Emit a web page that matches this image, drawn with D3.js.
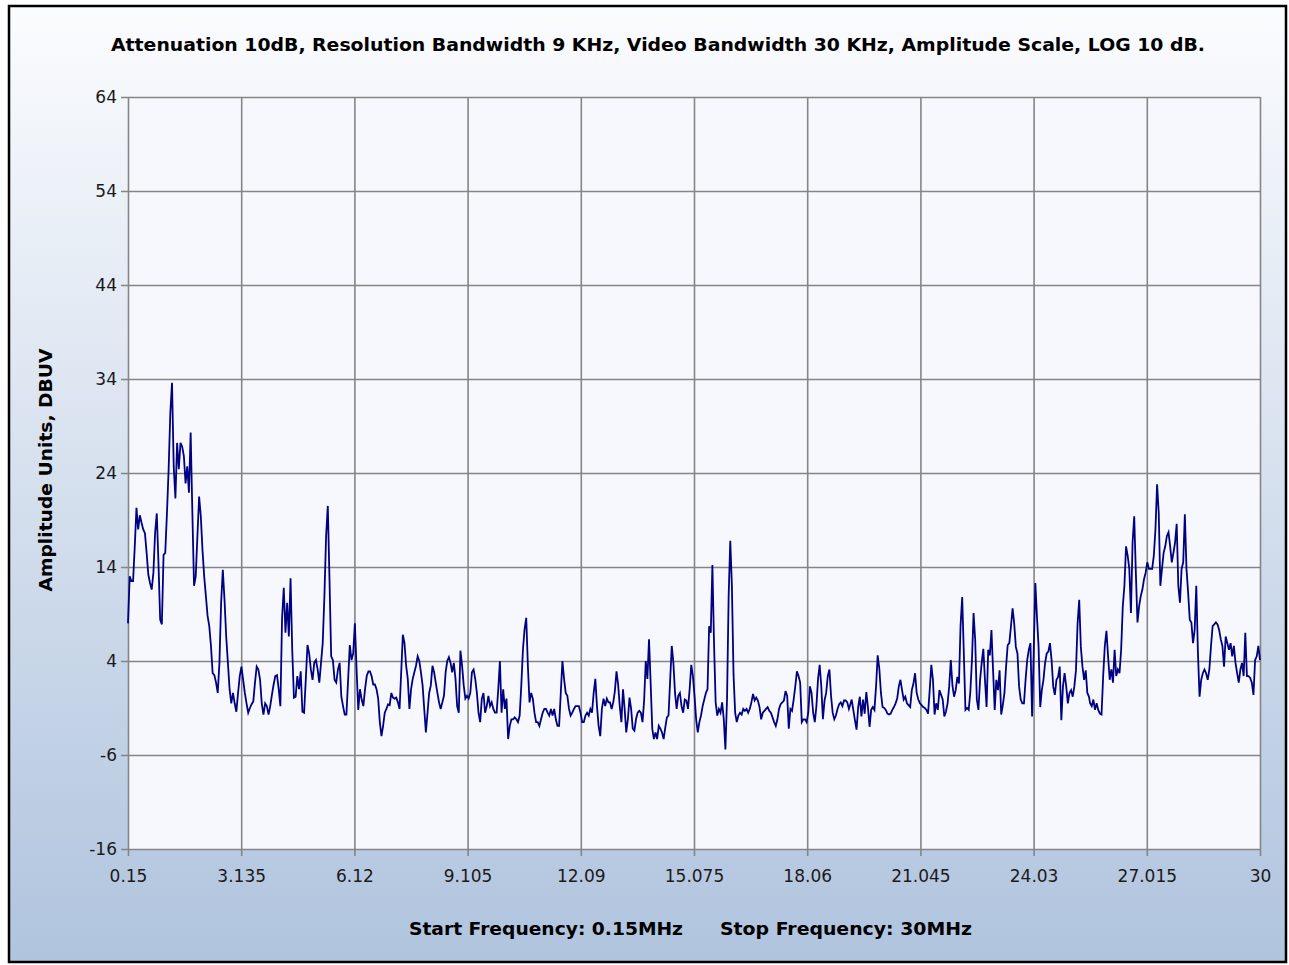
<!DOCTYPE html>
<html>
<head>
<meta charset="utf-8">
<script src="https://cdn.jsdelivr.net/npm/d3@7/dist/d3.min.js"></script>
<style>
  html, body { margin: 0; padding: 0; background: #ffffff; }
  svg { display: block; }
</style>
</head>
<body>
<script>
// ---------- DATA ----------
const title = "Attenuation 10dB, Resolution Bandwidth 9 KHz, Video Bandwidth 30 KHz, Amplitude Scale, LOG 10 dB.";
const yAxisTitle = "Amplitude Units, DBUV";
const startLabel = "Start Frequency: 0.15MHz";
const stopLabel = "Stop Frequency: 30MHz";

const xTickValues = [0.15, 3.135, 6.12, 9.105, 12.09, 15.075, 18.06, 21.045, 24.03, 27.015, 30];
const xTickLabels = ["0.15", "3.135", "6.12", "9.105", "12.09", "15.075", "18.06", "21.045", "24.03", "27.015", "30"];
const yTickValues = [-16, -6, 4, 14, 24, 34, 44, 54, 64];
const yTickLabels = ["-16", "-6", "4", "14", "24", "34", "44", "54", "64"];

// sweep segments (MHz) and the amplitude readings (dBuV) in each
const segStartMHz = [0.15, 6.53, 12.86, 19.19, 25.52];
const segEndMHz   = [6.49, 12.82, 19.16, 25.49, 30];

const amp1 = [8, 13, 12.5, 12.5, 16.2, 20.3, 18, 19.5, 18.7, 18,
  17.6, 15.5, 13.2, 12.3, 11.6, 13.4, 17.6, 19.7, 14.4, 8.4,
  7.9, 15.3, 15.5, 19.7, 24.4, 30.4, 33.6, 24.7, 21.3, 27.2,
  24.4, 27.2, 26.8, 25.8, 22.9, 24.7, 21.9, 28.3, 19.9, 12,
  13, 17.3, 21.5, 19.4, 15.8, 13, 10.9, 8.8, 7.7, 5.6,
  2.7, 2.5, 1.7, 0.6, 3.8, 10.2, 13.7, 10.5, 6.6, 3.8,
  1, -0.5, 0.6, -0.5, -1.4, 0.6, 2.4, 3.4, 2, 0.6,
  -0.5, -1.5, -1, -0.6, -0.3, 1.7, 3.4, 3.1, 2, -0.5,
  -1.7, -0.5, -0.8, -1.7, -0.8, 0.4, 1.5, 2.4, 2.5, 1,
  -0.8, 8.6, 11.8, 7, 10.2, 6.6, 12.8, 5.2, 0.1, 0.2,
  2.4, 1, 2.9, -1.4, -1.5, 2, 5.7, 4.8, 3.1, 2,
  3.8, 4.1, 3.1, 1.7, 3.8, 5.9, 10.9, 17.3, 20.5, 12.7,
  4.5, 4.1, 2, 1.7, 3.1, 3.8, 0.2, -0.8, -1.7, -1.7,
  2, 5.7, 4.1, 4.8, 8, 3.1, -1.2, 1, -0.1, -0.8,
  1, 2.4, 2.9];

const amp2 = [2.9, 2.4, 1.5, 1.5, 1, 0, -2.5, -4, -2.9, -1.5,
  -1.1, -0.6, -0.7, 0.6, 0.1, 0, 0.1, -0.4, -1.1, 2.8,
  6.8, 5.9, 3.5, 2.1, -1.1, 1, 2.1, 2.8, 3.5, 4.5,
  4, 2.8, 1.4, -1.1, -3.6, -1.5, 0.6, 1.4, 3.5, 2.8,
  1.7, 0.6, -0.4, -1.1, -0.4, 0.3, 2.8, 4, 4.4, 3.8,
  2.8, 3.8, 2.1, -0.8, -1.5, 5.1, 3.5, 1.4, 0, 0.3,
  0, 0.6, 2.8, 3.1, 2.1, 0.6, -1.5, -2.5, 0, 0.6,
  -1.5, -0.8, 0.3, -0.8, -0.4, -1.1, -1.5, -1.5, 1, 4,
  -1.5, 1, -1.1, 0, -4.3, -2.9, -2.2, -2.2, -2, -2.2,
  -2.5, -1.8, 1.4, 5.2, 7.4, 8.6, 3.5, -0.4, 0.6, 0,
  -1.5, -2.5, -2.5, -2.9, -2.2, -1.5, -1.1, -1.1, -1.5, -1.8,
  -1.1, -1.8, -1.1, -2.2, -2.9, -2.9, 0.6, 4, 2.1, 0.6,
  0.3, -1.1, -1.8, -1.5, -1.1, -0.8, -0.8, -0.8, -1.5, -2.5,
  -2.5, -1.8, -1.5, -1.8, -1.1, -1.5, 0.6, 2.1, -0.8, -2.9,
  -4, -1.1, 0, -0.8, 0, -0.4];

const amp3 = [-0.4, -1.1, -0.4, 0.8, 2.9, 1.5, -0.8, -2.5, 1, -1.1,
  -3.6, -2.2, 0.1, -1.1, -3.2, -3.4, -2.2, -1.5, -1.3, -1.5,
  -2.5, -0.2, 4, 2.1, 6.3, 1.7, -3.2, -4.3, -3.6, -4.3,
  -2.9, -3.2, -3.6, -4.3, -3.1, -2, -1.8, 1.9, 5.6, 3.8,
  0.6, -1.1, 0.3, 0.6, -0.8, -1.5, -0.1, -0.2, -1.1, 1,
  3.6, 2.4, 0.3, -2.2, -3.6, -2.5, -1.8, -0.8, -0.1, 0.6,
  1, 7.7, 7, 14.2, 5.9, -0.4, -1.8, -1.1, -1.5, -0.4,
  -2.2, -5.4, -0.1, 10.9, 16.8, 12, 2.6, -1.5, -2.5, -1.8,
  -1.5, -1.7, -1.1, -1.3, -1.1, -1.5, -1.1, -0.4, 0.5, -0.2,
  0.1, -0.2, -0.9, -2.2, -1.5, -1.3, -1.1, -0.9, -1.3, -1.5,
  -2, -2.5, -2.9, -2.2, -1.1, -0.6, -0.4, -0.2, 0.8, 0.3,
  -3.2, -1.1, -1.3, -0.1, 1.3, 2.9, 2.4, 1.7, -2.5, -2.2,
  -2.2, -2.5, -1.5, 1.3, 0.6, -1.5, -2.5, -0.8, 2.1, 3.6,
  1.3, -2.2, -0.2, 0.6, 2.4, 3.1, 0.3, -1.5, -2.2, -1.8,
  -1.1, -0.6, -0.4, -0.8, -0.2, -0.2, -0.4, -1.1];

const amp4 = [-0.7, -0.1, -1.2, -2.3, -3.3, -0.9, 0.2, -1.9, -0.1, -1.6,
  0.7, -0.9, -3, -1.2, -0.9, -1.2, 1.3, 4.6, 3.2, 0.6,
  -0.9, -1, -1.2, -1.6, -1.7, -1.6, -1.2, -0.9, -0.5, 0,
  1.3, 2, 0.9, -0.1, 0.2, -0.5, -0.7, -0.9, 0.9, 1.6,
  2.7, 0.6, -0.1, -0.5, -0.7, -0.9, -1, -1.2, -1.6, 0.9,
  3.6, 2, -1.7, -0.5, -1.2, 0.9, 0.4, -0.1, -1.9, -1.4,
  -0.5, 1.3, 4.1, 1.4, 0.2, 0.9, 2.3, 1.6, 7.8, 10.8,
  4.8, -1.2, -1, -1.2, 0.7, 4.1, 9.1, 6.2, -0.1, -1.2,
  2, 3.8, 5.3, 2, -0.9, 5.2, 4.6, 7.3, 3, -1.2,
  2, 0.9, 3, -1.7, -0.7, 0.6, 3.4, 5.7, 5.9, 7.7,
  9.6, 8, 5.5, 4.8, 1.3, -0.1, -0.5, -0.5, 2, 4.1,
  5.2, 5.9, -1.9, 5, 12.3, 8.7, 5.5, -0.9, 0.9, 2,
  3.8, 4.8, 5, 5.9, 4.1, 1.3, 0.4, 2, 2.3, 3.4,
  -2.3, 1.3, 2.7, 1.3, -0.5, 0.6, 0.9, 0.2, 1.3, 3,
  8, 10.5, 5.5, 3.4, 2, 3, 0.6, 0.2];

const amp5 = [-0.5, -0.8, -0.1, -1.2, -0.5, -1.2, -1.6, -1.7, 2.4, 5.6,
  7.2, 4.5, 2, 3.1, 1.7, 5.2, 2.4, 3.1, 2.7, 5.2,
  9.8, 12, 16.2, 15.2, 13.8, 9.1, 16.6, 19.4, 13.4, 8.1,
  9.8, 10.9, 11.6, 12.7, 13.4, 14.5, 13.8, 13.8, 13.8, 15.2,
  18, 22.8, 19.8, 12, 13.8, 15.5, 16.2, 17.3, 17.7, 16.2,
  14.5, 15.5, 16.6, 18.6, 12, 10.2, 13.8, 14.5, 19.6, 13.8,
  11.3, 8.4, 8.1, 5.9, 7.3, 12, 4.9, 0.2, 2, 2.7,
  3.1, 2.7, 2, 3.1, 5.6, 7.7, 7.9, 8.1, 7.9, 7.3,
  6.3, 5.6, 3.4, 6.6, 5.9, 5.2, 5.9, 4.5, 5.6, 3.8,
  2.7, 1.7, 3.1, 3.8, 2.4, 7, 2.4, 2.4, 2.2, 1.7,
  0.4, 4.1, 4.5, 5.6, 4.1];

const ampSegments = [amp1, amp2, amp3, amp4, amp5];

// ---------- BUILD ----------
const W = 1289, H = 965;
const plot = { left: 128, right: 1260, top: 97, bottom: 849 };
const FONT = "DejaVu Sans, Verdana, sans-serif";

const points = [];
ampSegments.forEach((seg, s) => {
  const f = d3.scaleLinear().domain([0, seg.length - 1]).range([segStartMHz[s], segEndMHz[s]]);
  seg.forEach((v, i) => points.push({ f: f(i), v }));
});

const svg = d3.select("body").append("svg").attr("width", W).attr("height", H);
const defs = svg.append("defs");
const grad = defs.append("linearGradient").attr("id", "bg").attr("x1", 0).attr("y1", 0).attr("x2", 0).attr("y2", 1);
grad.append("stop").attr("offset", "0%").attr("stop-color", "#fbfcfe");
grad.append("stop").attr("offset", "100%").attr("stop-color", "#b0c4de");

svg.append("rect").attr("x", 0).attr("y", 0).attr("width", W).attr("height", H).attr("fill", "#ffffff");
svg.append("rect").attr("x", 9).attr("y", 6).attr("width", 1277).attr("height", 956)
  .attr("fill", "url(#bg)").attr("stroke", "#000000").attr("stroke-width", 2.5);

const x = d3.scaleLinear().domain([0.15, 30]).range([plot.left, plot.right]);
const y = d3.scaleLinear().domain([-16, 64]).range([plot.bottom, plot.top]);

// plot background
svg.append("rect").attr("x", plot.left).attr("y", plot.top)
  .attr("width", plot.right - plot.left).attr("height", plot.bottom - plot.top)
  .attr("fill", "#f6f8fe");

const gridColor = "#858585";
// horizontal grid + y ticks
const yAxis = d3.axisLeft(y).tickValues(yTickValues)
  .tickFormat((d, i) => yTickLabels[i])
  .tickSize(-(plot.right - plot.left)).tickPadding(11);
const gy = svg.append("g").attr("transform", `translate(${plot.left},0)`).call(yAxis);
gy.select(".domain").remove();
gy.selectAll(".tick line").attr("stroke", gridColor).attr("stroke-width", 1.6)
  .attr("x1", -7);
gy.selectAll(".tick text").attr("font-family", FONT)
  .attr("font-size", 17).attr("fill", "#1a1a1a");

// vertical grid + x ticks
const xAxis = d3.axisBottom(x).tickValues(xTickValues)
  .tickFormat((d, i) => xTickLabels[i])
  .tickSize(-(plot.bottom - plot.top)).tickPadding(18);
const gx = svg.append("g").attr("transform", `translate(0,${plot.bottom})`).call(xAxis);
gx.select(".domain").remove();
gx.selectAll(".tick line").attr("stroke", gridColor).attr("stroke-width", 1.6)
  .attr("y1", 7);
gx.selectAll(".tick text").attr("font-family", FONT)
  .attr("font-size", 17).attr("fill", "#1a1a1a").attr("dy", "0.9em");

// trace
const line = d3.line().x(d => x(d.f)).y(d => y(d.v));
svg.append("path").datum(points).attr("d", line)
  .attr("fill", "none").attr("stroke", "#000080").attr("stroke-width", 1.8)
  .attr("stroke-linejoin", "miter");

// texts
function boldText(xp, yp, txt, len, transform) {
  const t = svg.append("text").attr("text-anchor", "middle")
    .attr("font-family", FONT).attr("font-weight", "bold")
    .attr("font-size", 18).attr("textLength", len).attr("lengthAdjust", "spacingAndGlyphs")
    .attr("fill", "#000").text(txt);
  if (transform) t.attr("transform", transform);
  else t.attr("x", xp).attr("y", yp);
  return t;
}
boldText(658, 51, title, 1094);
boldText(0, 0, yAxisTitle, 243, "translate(52,470) rotate(-90)");
boldText(546, 935, startLabel, 274);
boldText(846, 935, stopLabel, 252);
</script>
</body>
</html>
